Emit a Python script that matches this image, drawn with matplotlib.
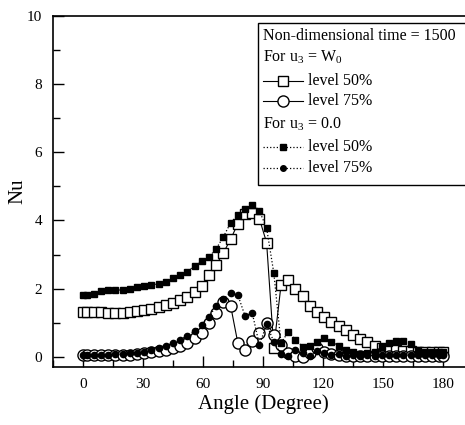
import matplotlib
matplotlib.use("Agg")
import matplotlib.pyplot as plt
from matplotlib.lines import Line2D
from matplotlib.patches import Rectangle
from matplotlib.ticker import MultipleLocator

plt.rcParams['font.family'] = ['Liberation Serif', 'DejaVu Serif']
plt.rcParams['mathtext.default'] = 'regular'

# ---- data ---- #
angle = [0, 1.8, 5.4, 9, 12.6, 16.2, 19.8, 23.4, 27, 30.6, 34.2, 37.8, 41.4,
         45, 48.6, 52.2, 55.8, 59.4, 63, 66.6, 70.2, 73.8, 77.4, 81, 84.6,
         88.2, 91.8, 95.4, 99, 102.6, 106.2, 109.8, 113.4, 117, 120.6, 124.2,
         127.8, 131.4, 135, 138.6, 142.2, 145.8, 149.4, 153, 156.6, 160.2,
         163.8, 167.4, 171, 174.6, 178.2, 180]

# u3 = W0, level 50% (open squares)
nu_w0_50 = [1.30, 1.30, 1.30, 1.30, 1.28, 1.27, 1.29, 1.31, 1.34, 1.37, 1.41,
            1.46, 1.52, 1.58, 1.66, 1.76, 1.90, 2.08, 2.40, 2.70, 3.05, 3.45,
            3.90, 4.20, 4.22, 4.05, 3.35, 0.27, 2.10, 2.25, 2.00, 1.77, 1.50,
            1.30, 1.17, 1.03, 0.90, 0.80, 0.65, 0.53, 0.42, 0.32, 0.27, 0.23,
            0.20, 0.18, 0.16, 0.15, 0.15, 0.15, 0.15, 0.15]

# u3 = W0, level 75% (open circles)
nu_w0_75 = [0.05, 0.05, 0.05, 0.05, 0.04, 0.04, 0.05, 0.06, 0.08, 0.10, 0.13,
            0.16, 0.20, 0.25, 0.32, 0.41, 0.56, 0.70, 1.00, 1.29, 1.62, 1.50,
            0.41, 0.20, 0.47, 0.70, 1.00, 0.65, 0.35, 0.12, 0.03, 0.00, 0.12,
            0.26, 0.15, 0.09, 0.05, 0.03, 0.03, 0.03, 0.03, 0.03, 0.03, 0.03,
            0.03, 0.03, 0.03, 0.03, 0.03, 0.03, 0.03, 0.03]

# u3 = 0.0, level 50% (filled squares)
nu_00_50 = [1.82, 1.82, 1.83, 1.92, 1.95, 1.97, 1.95, 2.00, 2.05, 2.07, 2.10,
            2.15, 2.20, 2.30, 2.40, 2.50, 2.67, 2.80, 2.93, 3.17, 3.52, 3.93,
            4.16, 4.34, 4.46, 4.28, 3.78, 2.46, 0.40, 0.73, 0.50, 0.30, 0.32,
            0.44, 0.56, 0.44, 0.32, 0.20, 0.15, 0.09, 0.10, 0.15, 0.29, 0.41,
            0.47, 0.47, 0.38, 0.20, 0.15, 0.13, 0.13, 0.15]

# u3 = 0.0, level 75% (filled circles)
nu_00_75 = [0.05, 0.05, 0.05, 0.06, 0.06, 0.07, 0.08, 0.10, 0.12, 0.15, 0.20,
            0.25, 0.32, 0.40, 0.50, 0.62, 0.75, 0.94, 1.17, 1.50, 1.70, 1.88,
            1.82, 1.20, 1.29, 0.35, 0.95, 0.44, 0.08, 0.02, 0.20, 0.12, 0.02,
            0.18, 0.10, 0.05, 0.08, 0.03, 0.05, 0.03, 0.05, 0.03, 0.05, 0.05,
            0.05, 0.05, 0.05, 0.05, 0.05, 0.05, 0.05, 0.05]

W, H = 465, 425
fig = plt.figure(figsize=(W / 100, H / 100), dpi=100)

# axes box in pixels: left 53, right ~473 (cut off), top 16, bottom 367
ax = fig.add_axes([53 / W, 1 - 367 / H, (473 - 53) / W, (367 - 16) / H])

ax.plot(angle, nu_w0_50, '-', color='k', lw=0.8, marker='s', ms=7,
        mfc='white', mec='k', mew=1.0)
ax.plot(angle, nu_w0_75, '-', color='k', lw=0.8, marker='o', ms=8,
        mfc='white', mec='k', mew=1.0)
ax.plot(angle, nu_00_50, ':', color='k', lw=0.9, marker='s', ms=4.5,
        mfc='k', mec='k')
ax.plot(angle, nu_00_75, ':', color='k', lw=0.9, marker='o', ms=4.5,
        mfc='k', mec='k')

ax.set_xlim(-15, 195)
ax.set_ylim(-0.3, 10)
ax.xaxis.set_major_locator(MultipleLocator(30))
ax.xaxis.set_minor_locator(MultipleLocator(15))
ax.yaxis.set_major_locator(MultipleLocator(2))
ax.yaxis.set_minor_locator(MultipleLocator(1))
ax.tick_params(which='both', direction='in', top=False, right=False,
               labelsize=11, width=1.0)
ax.tick_params(which='major', length=8, pad=8)
ax.tick_params(which='minor', length=5)
for sp in ax.spines.values():
    sp.set_linewidth(1.2)

ax.set_xlabel('Angle (Degree)', fontsize=15, labelpad=2)
ax.set_ylabel('Nu', fontsize=15)
ax.yaxis.set_label_coords(-0.062, 0.5)

# ---- hand-made legend box (pixel layout) ---- #
def fx(x):
    return x / W

def fy(y):
    return 1 - y / H

fig.add_artist(Rectangle((fx(258), fy(185)), fx(480) - fx(258),
                         fy(23) - fy(185), transform=fig.transFigure,
                         facecolor='white', edgecolor='k', lw=1.0, zorder=5))

fs = 11.5
rows = [
    (36, 'Non-dimensional time = 1500', None),
    (57, 'For u$_3$ = W$_0$', None),
    (81, 'level 50%', dict(ls='-', marker='s', ms=7, mfc='white', lw=0.8)),
    (101, 'level 75%', dict(ls='-', marker='o', ms=8, mfc='white', lw=0.8)),
    (124, 'For u$_3$ = 0.0', None),
    (147, 'level 50%', dict(ls=':', marker='s', ms=4, mfc='k', lw=0.9)),
    (168, 'level 75%', dict(ls=':', marker='o', ms=4, mfc='k', lw=0.9)),
]
for y, label, style in rows:
    if style is None:
        fig.text(fx(263), fy(y), label, fontsize=fs, va='center', ha='left',
                 zorder=6)
    else:
        fig.add_artist(Line2D([fx(263), fx(303)], [fy(y), fy(y)],
                              transform=fig.transFigure, color='k',
                              linestyle=style['ls'], lw=style['lw'],
                              zorder=6))
        fig.add_artist(Line2D([fx(283)], [fy(y)], transform=fig.transFigure,
                              color='k', linestyle='none',
                              marker=style['marker'], ms=style['ms'],
                              mfc=style['mfc'], mec='k', mew=1.0, zorder=7))
        fig.text(fx(308), fy(y), label, fontsize=fs, va='center', ha='left',
                 zorder=6)

fig.savefig('out.png', dpi=100)
